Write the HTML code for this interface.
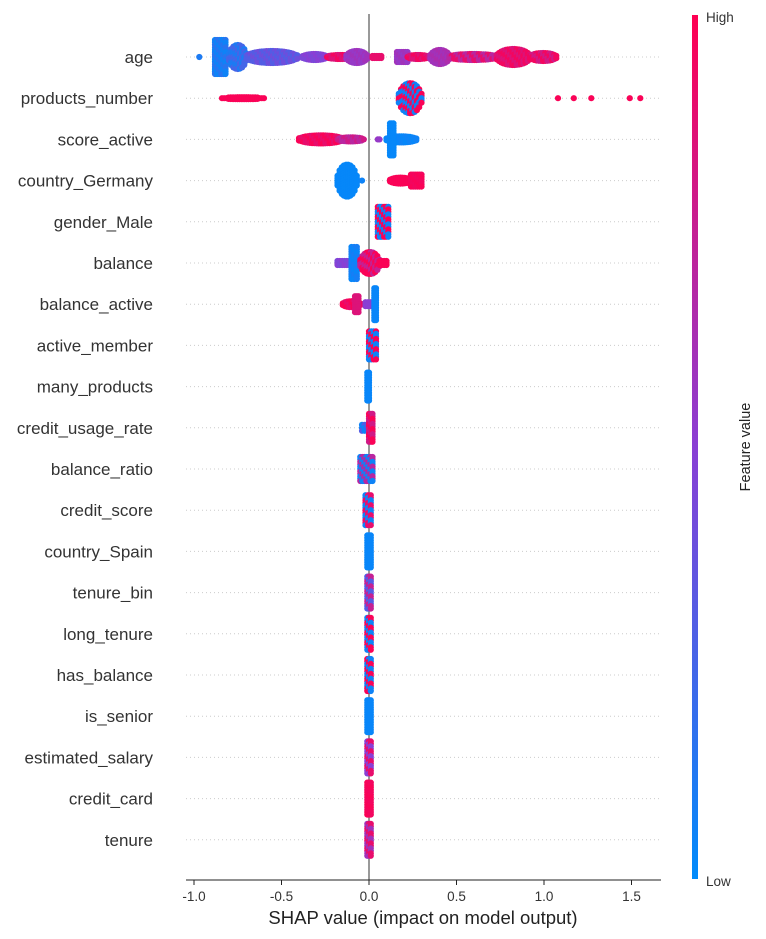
<!DOCTYPE html>
<html><head><meta charset="utf-8">
<style>
html,body{margin:0;padding:0;background:#fff;}
svg{display:block;font-family:"Liberation Sans","DejaVu Sans",sans-serif;}
</style></head>
<body>
<svg id="chart" width="766" height="939" viewBox="0 0 766 939">
<defs>
<linearGradient id="cb" x1="0" y1="1" x2="0" y2="0">
<stop offset="0" stop-color="#008bfb"/>
<stop offset="0.5" stop-color="#8a3fd4"/>
<stop offset="1" stop-color="#ff0052"/>
</linearGradient>
</defs>
<g id="grid"></g>
<line x1="369" y1="14" x2="369" y2="880" stroke="#999" stroke-width="2"/>
<g id="pts"></g>
<g id="labels"></g>
<line x1="186" y1="880" x2="661" y2="880" stroke="#222" stroke-width="1"/>
<g id="xticks"></g>
<text x="423" y="924" text-anchor="middle" font-size="18.5" fill="#222">SHAP value (impact on model output)</text>
<rect x="692" y="15" width="6" height="864" fill="url(#cb)"/>
<text x="706" y="22" font-size="13.5" fill="#333">High</text>
<text x="706" y="886" font-size="13.5" fill="#333">Low</text>
<text transform="translate(750,447) rotate(-90)" text-anchor="middle" font-size="14.5" fill="#222">Feature value</text>
</svg>
<script>
const features = ["age","products_number","score_active","country_Germany","gender_Male","balance","balance_active","active_member","many_products","credit_usage_rate","balance_ratio","credit_score","country_Spain","tenure_bin","long_tenure","has_balance","is_senior","estimated_salary","credit_card","tenure"];
const xTicks = [-1.0,-0.5,0.0,0.5,1.0,1.5];
const xTickLabels = ["-1.0","-0.5","0.0","0.5","1.0","1.5"];
// clusters: [row, shapStart, shapEnd, halfHeightPx, featureValueA, featureValueB]
const clusters = [
[0,-0.97,-0.97,0,0.1,0.1],[0,-0.88,-0.82,17,0.05,0.15],[0,-0.80,-0.70,12,0.1,0.25],[0,-0.70,-0.41,6,0.3,0.4],
[0,-0.38,-0.24,3,0.45,0.5],[0,-0.24,-0.09,2,0.95,0.85],[0,-0.13,-0.01,6,0.55,0.6],[0,0.02,0.07,1,0.9,0.9],
[0,0.16,0.22,5,0.6,0.55],[0,0.22,0.34,2,0.95,0.85],[0,0.35,0.46,7,0.65,0.6],[0,0.46,0.73,3,0.7,0.9],
[0,0.73,0.92,8,0.85,0.95],[0,0.92,1.07,4,0.95,0.8],
[1,-0.84,-0.60,1,0.98,0.98],[1,0.17,0.30,15,0.05,0.98],[1,1.08,1.08,0,0.98,0.98],[1,1.17,1.17,0,0.98,0.98],[1,1.27,1.27,0,0.98,0.98],[1,1.49,1.49,0,0.98,0.98],[1,1.55,1.55,0,0.98,0.98],
[2,-0.40,-0.15,4,0.98,0.9],[2,-0.18,-0.03,2,0.8,0.7],[2,0.05,0.06,0,0.55,0.55],[2,0.10,0.27,3,0.02,0.05],[2,0.12,0.14,16,0.02,0.02],
[3,-0.18,-0.07,16,0.02,0.02],[3,-0.04,-0.04,0,0.05,0.05],[3,0.12,0.24,3,0.98,0.98],[3,0.24,0.30,6,0.98,0.95],
[4,0.05,0.11,15,0.98,0.05],
[5,-0.18,-0.10,2,0.45,0.5],[5,-0.10,-0.07,16,0.03,0.08],[5,-0.05,0.06,11,0.98,0.75],[5,0.06,0.10,2,0.98,0.98],
[6,-0.15,-0.05,3,0.98,0.9],[6,-0.08,-0.06,8,0.85,0.85],[6,-0.02,0.01,2,0.5,0.5],[6,0.03,0.04,16,0.03,0.03],
[7,0.00,0.04,14,0.98,0.05],
[8,-0.01,0.00,14,0.03,0.03],
[9,-0.04,-0.01,3,0.05,0.3],[9,0.00,0.02,14,0.98,0.8],
[10,-0.05,0.02,12,0.05,0.7],
[11,-0.02,0.01,15,0.05,0.9],
[12,-0.01,0.01,16,0.03,0.03],
[13,-0.01,0.01,16,0.3,0.75],
[14,-0.01,0.01,16,0.05,0.98],
[15,-0.01,0.01,16,0.98,0.05],
[16,-0.01,0.01,16,0.03,0.03],
[17,-0.01,0.01,16,0.5,0.9],
[18,-0.01,0.01,16,0.98,0.95],
[19,-0.01,0.01,16,0.6,0.9]
];
const NS="http://www.w3.org/2000/svg";
const X0=369, SC=175;
function xs(v){return X0+v*SC;}
function ys(r){return 57+r*41.2;}
function lerp(a,b,t){return a+(b-a)*t;}
function color(f){
  const s=[[0,138,251],[138,63,212],[255,0,82]];
  let a,b,t; if(f<0.5){a=s[0];b=s[1];t=f/0.5;}else{a=s[1];b=s[2];t=(f-0.5)/0.5;}
  return "rgb("+Math.round(lerp(a[0],b[0],t))+","+Math.round(lerp(a[1],b[1],t))+","+Math.round(lerp(a[2],b[2],t))+")";
}
const grid=document.getElementById('grid'), lab=document.getElementById('labels'), pts=document.getElementById('pts'), xt=document.getElementById('xticks');
features.forEach((f,i)=>{
  const y=ys(i);
  const l=document.createElementNS(NS,'line');
  
  
  l.setAttribute('x1',186);l.setAttribute('x2',660);l.setAttribute('y1',y);l.setAttribute('y2',y);
  l.setAttribute('stroke','#ccc');l.setAttribute('stroke-width','1');l.setAttribute('stroke-dasharray','1,3');
  grid.appendChild(l);
  const t=document.createElementNS(NS,'text');
  
  
  t.setAttribute('x',153);t.setAttribute('y',y+6);t.setAttribute('text-anchor','end');
  t.setAttribute('font-size','17');t.setAttribute('fill','#333');
  t.textContent=f; lab.appendChild(t);
});
xTicks.forEach((v,i)=>{
  const x=xs(v);
  const l=document.createElementNS(NS,'line');
  
  
  l.setAttribute('x1',x);l.setAttribute('x2',x);l.setAttribute('y1',880);l.setAttribute('y2',885);l.setAttribute('stroke','#222');
  xt.appendChild(l);
  const t=document.createElementNS(NS,'text');
  
  
  t.setAttribute('x',x);t.setAttribute('y',901);t.setAttribute('text-anchor','middle');t.setAttribute('font-size','13.5');t.setAttribute('fill','#333');
  t.textContent=xTickLabels[i]; xt.appendChild(t);
});
clusters.forEach(c=>{
  const [r,s0,s1,h,fa,fb]=c;
  const y=ys(r);
  const x0=xs(s0), x1=xs(s1);
  const nx=Math.max(1,Math.round((x1-x0)/2.2)+1);
  const wide=(x1-x0)>16;
  for(let i=0;i<nx;i++){
    const t=nx>1?i/(nx-1):0.5;
    const hh=wide?h*Math.max(0.3,Math.sqrt(Math.max(0,1-(2*t-1)*(2*t-1)))):h;
    const lanes=Math.max(1,Math.round(2*hh/2.5)+1);
    const cx=nx>1?x0+(x1-x0)*t:x0;
    for(let j=0;j<lanes;j++){
      const cy=lanes>1?y-hh+2*hh*j/(lanes-1):y;
      const d=document.createElementNS(NS,'circle');
      
      
      d.setAttribute('cx',cx.toFixed(1));d.setAttribute('cy',cy.toFixed(1));d.setAttribute('r','3.1');
      d.setAttribute('fill',color(((i*3+j*5)%4<2)?fa:fb));
      pts.appendChild(d);
    }
  }
});
</script>
</body></html>
